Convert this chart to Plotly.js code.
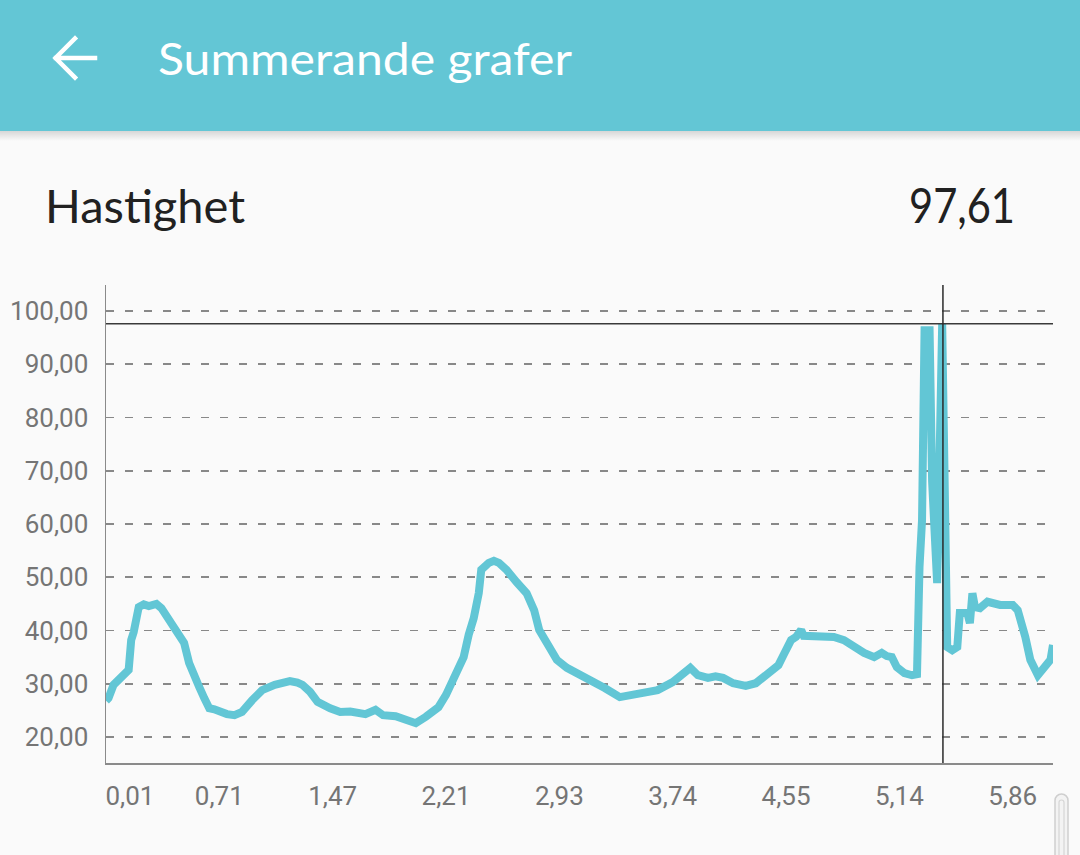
<!DOCTYPE html>
<html>
<head>
<meta charset="utf-8">
<script src="https://cdn.plot.ly/plotly-3.0.1.min.js"></script>
<style>
  html, body { margin:0; padding:0; background:#FAFAFA; width:1080px; height:855px; overflow:hidden; }
  #chart { position:absolute; left:0; top:0; width:1080px; height:855px; }
  #overlay { position:absolute; left:0; top:0; pointer-events:none; }
</style>
</head>
<body>
<div id="chart"></div>
<svg id="overlay" width="1080" height="855" xmlns="http://www.w3.org/2000/svg">
  <defs>
    <linearGradient id="shadow" x1="0" y1="0" x2="0" y2="1">
      <stop offset="0" stop-color="rgba(0,0,0,0.14)"/>
      <stop offset="1" stop-color="rgba(0,0,0,0)"/>
    </linearGradient>
  </defs>
  <rect x="0" y="0" width="1080" height="131" fill="#63C6D5"/>
  <rect x="0" y="131" width="1080" height="10" fill="url(#shadow)"/>
  <path d="M95,58 H56 M75,38.5 L55.5,58 L75,77.5" stroke="#FFFFFF" stroke-width="4.5" fill="none" stroke-linecap="square"/>
  <text id="appTitle" x="158" y="75" font-family="Lato, 'Open Sans', sans-serif" font-size="45" fill="#FFFFFF" textLength="414" lengthAdjust="spacingAndGlyphs">Summerande grafer</text>
  <text id="metricName" x="45" y="223" font-family="Lato, 'Open Sans', sans-serif" font-size="47" fill="#212121" textLength="200" lengthAdjust="spacingAndGlyphs">Hastighet</text>
  <text id="metricValue" x="909" y="223" font-family="Lato, 'Open Sans', sans-serif" font-size="48" fill="#212121" textLength="106" lengthAdjust="spacingAndGlyphs">97,61</text>
  <rect x="1055" y="794" width="13" height="80" rx="6.5" fill="#F3F3F3" stroke="#CFCFCF" stroke-width="1.5"/>
  <rect x="1059" y="800" width="5" height="70" rx="2.5" fill="none" stroke="#D6D6D6" stroke-width="1.2"/>
</svg>
<script>
// ---- data (sample index along the trip, speed) ----
const sampleIdx = [0,1,3,6,8,9,10,11,13,15,17,20,22,25,28,31,33,35,37,39,41,43,45,48,51,54,58,62,67,70,73,76,78,81,84,89,93,97,100,103,107,109,110,115,119,123,127,132,135,138,142,144,146,148,149,152,154,156,159,163,167,170,172,176,179,183,189,193,198,204,210,215,219,225,230,232,235,239,242,245,249,254,258,262,267,269,272,274,276,277,282,286,289,293,297,301,305,308,310,312,314,317,320,322,323,324,325,327,328,330,332,334,336,338,339,342,343,344,345,347,350,355,360,362,365,367,370,372,375,376];
const speed = [26.8,27.3,29.8,31.3,32.0,32.6,38.2,39.7,44.4,44.9,44.6,45.0,44.2,42.0,40.1,37.7,33.9,32.0,29.4,27.3,25.4,25.2,24.7,24.3,24.1,24.7,26.9,28.8,29.8,30.0,30.5,30.2,29.8,28.5,26.6,25.4,24.7,24.8,24.5,24.3,25.1,24.7,24.1,23.9,23.2,22.6,23.8,25.6,27.9,31.1,35.0,39.2,42.3,47.0,51.4,52.7,53.1,52.7,51.4,49.1,47.0,43.8,40.1,36.9,34.5,33.0,31.6,30.3,29.2,27.5,27.9,28.3,28.8,30.3,32.2,33.0,31.6,31.1,31.4,31.1,30.1,29.6,30.1,31.6,33.5,35.4,38.2,38.8,40.1,39.0,38.8,39.0,38.8,38.2,36.9,35.8,35.0,35.8,35.2,35.0,33.1,32.0,31.6,31.8,51.9,60.7,96.4,96.4,68.0,48.9,97.61,36.9,36.3,36.9,43.3,43.3,41.4,47.0,44.4,44.2,45.4,44.8,44.8,43.8,38.8,34.5,31.6,32.6,34.5,37.3];

// x tick labels (distance, km) every 45 samples
const tickSamples = [0,45,90,135,180,225,270,315,360];
const tickLabels = ['0,01','0,71','1,47','2,21','2,93','3,74','4,55','5,14','5,86'];

// highlighted point
const highlightSample = 332.3;
const highlightValue = 97.61;

const lastSample = 376;
const yMin = 15.12, yMax = 104.88;

// first label is pushed right so it does not clip past the axis (like the app does)
const firstLabelShift = 9.5;
const tickPos = tickSamples.map((t, i) => i === 0 ? t + firstLabelShift : t);

const lineColor = '#62C6D5';

const trace = {
  x: sampleIdx,
  y: speed,
  type: 'scatter',
  mode: 'lines',
  line: { color: lineColor, width: 8 },
  hoverinfo: 'skip'
};

const layout = {
  width: 1080,
  height: 855,
  margin: { l: 106, r: 27, t: 285, b: 92 },
  paper_bgcolor: '#FAFAFA',
  plot_bgcolor: '#FAFAFA',
  showlegend: false,
  separators: ',.',
  font: { family: 'Roboto, sans-serif', color: '#757575', size: 26 },
  xaxis: {
    range: [0, lastSample],
    tickmode: 'array',
    tickvals: tickPos,
    ticktext: tickLabels,
    showgrid: false,
    zeroline: false,
    showline: true,
    linecolor: '#8A8A8A',
    linewidth: 1.5,
    ticks: 'outside',
    ticklen: 9,
    tickcolor: 'rgba(0,0,0,0)',
    tickfont: { family: 'Roboto, sans-serif', size: 26, color: '#757575' },
    fixedrange: true
  },
  yaxis: {
    range: [yMin, yMax],
    tick0: 0,
    dtick: 10,
    tickformat: '.2f',
    showgrid: true,
    gridcolor: '#888888',
    gridwidth: 1.8,
    griddash: '8px,11px',
    zeroline: false,
    showline: true,
    linecolor: '#8A8A8A',
    linewidth: 1.5,
    ticks: 'outside',
    ticklen: 11,
    tickcolor: 'rgba(0,0,0,0)',
    tickfont: { family: 'Roboto, sans-serif', size: 26, color: '#757575' },
    fixedrange: true
  },
  shapes: [
    { type: 'line', xref: 'paper', yref: 'y', x0: 0, x1: 1, y0: highlightValue, y1: highlightValue,
      line: { color: '#3A3A3A', width: 1.5 } },
    { type: 'line', xref: 'x', yref: 'paper', x0: highlightSample, x1: highlightSample, y0: 0, y1: 1,
      line: { color: '#2A2A2A', width: 1.5 } }
  ]
};

Plotly.newPlot('chart', [trace], layout, { staticPlot: true, displayModeBar: false });
</script>
</body>
</html>
